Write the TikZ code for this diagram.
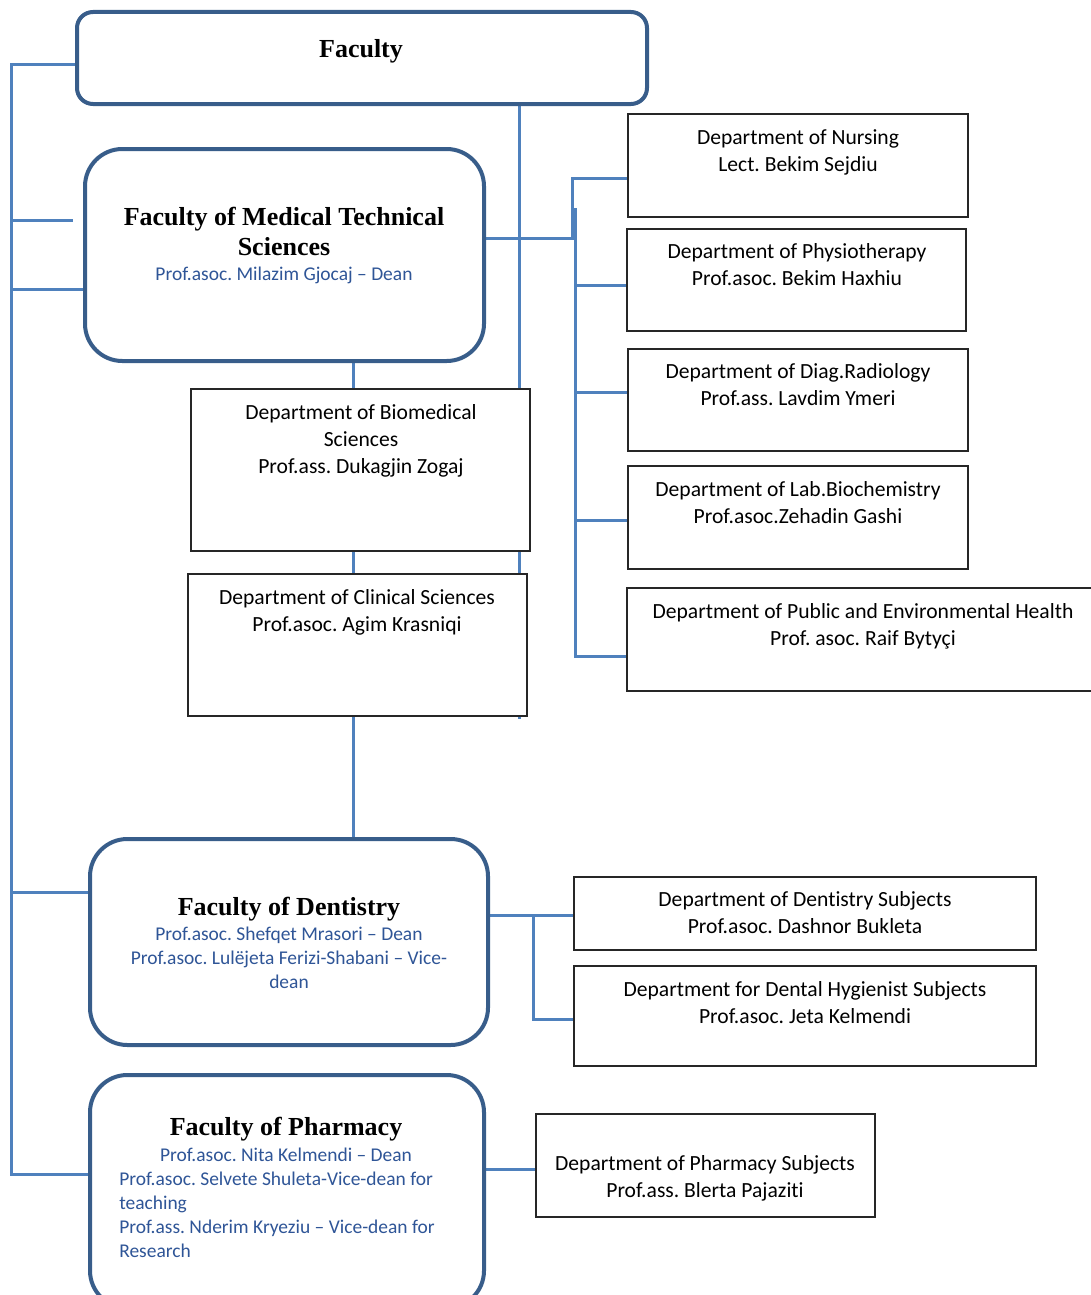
\documentclass[tikz,border=0pt]{standalone}
\usepackage{fontspec}
\setmainfont{Carlito}[Ligatures={NoCommon}]
\newfontfamily\titlefont{Liberation Serif}
\usetikzlibrary{fit,backgrounds}
\frenchspacing

\definecolor{linkblue}{RGB}{79,129,189}
\definecolor{frameblue}{RGB}{56,93,138}
\definecolor{namesblue}{RGB}{47,85,151}

\tikzset{
  conn/.style={draw=linkblue, line width=2.25pt},
  facbox/.style={draw=frameblue, line width=3pt, fill=white, inner sep=0pt},
  deptbox/.style={draw=black!85, line width=1pt, fill=white, inner sep=0pt},
  depttext/.style={anchor=north, align=center, inner sep=0pt,
    font=\frenchspacing\fontsize{16.2}{20.25}\selectfont},
  titletext/.style={anchor=north, align=center, inner sep=0pt,
    font=\titlefont\bfseries\fontsize{19.5}{22.5}\selectfont},
  nametext/.style={anchor=north, align=center, inner sep=0pt, text=namesblue,
    font=\frenchspacing\fontsize{14.6}{18}\selectfont},
}

\begin{document}
\begin{tikzpicture}[x=0.75pt, y=-0.75pt]
\useasboundingbox (0,0) rectangle (1091,1295);
\clip (0,0) rectangle (1091,1295);

% ---------- faculty boxes ----------
\node[facbox, rounded corners=12pt, fit={(77,12) (647,104)}] (fac) {};
\node[facbox, rounded corners=28pt, fit={(85,149) (484,361)}] (fmt) {};
\node[facbox, rounded corners=28pt, fit={(90,839) (488,1045)}] (den) {};
\node[facbox, rounded corners=28pt, fit={(90,1075) (484,1308)}] (pha) {};

% ---------- department boxes ----------
\node[deptbox, fit={(628,114) (968,217)}] (nur) {};
\node[deptbox, fit={(627,229) (966,331)}] (phy) {};
\node[deptbox, fit={(628,349) (968,451)}] (rad) {};
\node[deptbox, fit={(628,466) (968,569)}] (bch) {};
\node[deptbox, fit={(627,588) (1100,691)}] (pub) {};
\node[deptbox, fit={(191,389) (530,551)}] (bmd) {};
\node[deptbox, fit={(188,574) (527,716)}] (cli) {};
\node[deptbox, fit={(574,877) (1036,950)}] (dsu) {};
\node[deptbox, fit={(574,966) (1036,1066)}] (dhy) {};
\node[deptbox, fit={(536,1114) (875,1217)}] (psu) {};

% ---------- texts ----------
\node[titletext] (fac-t) at (361,36) {\strut Faculty};

\node[titletext] (fmt-t) at (284,204.5) {\strut Faculty of Medical Technical\\Sciences};
\node[nametext] (fmt-n) at (284,263) {\strut Prof.asoc. Milazim Gjocaj – Dean};

\node[titletext] (den-t) at (289,894.5) {\strut Faculty of Dentistry};
\node[nametext] (den-n) at (289,923.5) {\strut Prof.asoc. Shefqet Mrasori – Dean\\Prof.asoc. Lulëjeta Ferizi-Shabani – Vice-\\dean};

\node[titletext] (pha-t) at (286,1114.5) {\strut Faculty of Pharmacy};
\node[nametext] (pha-n) at (286,1144) {\strut Prof.asoc. Nita Kelmendi – Dean};
\node[nametext, anchor=north west, align=left] (pha-v) at (119,1168.5)
  {\strut Prof.asoc. Selvete Shuleta-Vice-dean for\\teaching\\Prof.ass. Nderim Kryeziu – Vice-dean for\\Research};

\node[depttext] (nur-t) at (798,125.5) {\strut Department of Nursing\\Lect. Bekim Sejdiu};
\node[depttext] (phy-t) at (797,239.5) {\strut Department of Physiotherapy\\Prof.asoc. Bekim Haxhiu};
\node[depttext] (rad-t) at (798,359.5) {\strut Department of Diag.Radiology\\Prof.ass. Lavdim Ymeri};
\node[depttext] (bch-t) at (798,477.5) {\strut Department of Lab.Biochemistry\\Prof.asoc.Zehadin Gashi};
\node[depttext] (pub-t) at (863,599.5) {\strut Department of Public and Environmental Health\\Prof. asoc. Raif Bytyçi};
\node[depttext] (bmd-t) at (361,400.5) {\strut Department of Biomedical\\Sciences\\Prof.ass. Dukagjin Zogaj};
\node[depttext] (cli-t) at (357,585.5) {\strut Department of Clinical Sciences\\Prof.asoc. Agim Krasniqi};
\node[depttext] (dsu-t) at (805,887.5) {\strut Department of Dentistry Subjects\\Prof.asoc. Dashnor Bukleta};
\node[depttext] (dhy-t) at (805,977.5) {\strut Department for Dental Hygienist Subjects\\Prof.asoc. Jeta Kelmendi};
\node[depttext] (psu-t) at (705,1151.5) {\strut Department of Pharmacy Subjects\\Prof.ass. Blerta Pajaziti};

% ---------- connectors (behind the boxes) ----------
\begin{scope}[on background layer]
  % left spine from the faculty to the three schools
  \draw[conn] (fac.west |- 0,65) -| (11,1174) -- (pha.west |- 0,1174);
  \draw[conn] (11,220) -- ([xshift=-7.5pt]fmt.west |- 0,220);
  \draw[conn] (11,289) -- (fmt.west |- 0,289);
  \draw[conn] (11,892) -- (den.west |- 0,892);
  % drop line from the faculty box
  \draw[conn] (fac.south -| 519,0) -- (519,719);
  % medical technical sciences to its departments
  \draw[conn] (fmt.east |- 0,238) -- (572,238) -- (572,178) -- (nur.west |- 0,178);
  \draw[conn] (575,208) -- (575,656) -- (pub.west |- 0,656);
  \draw[conn] (575,285) -- (phy.west |- 0,285);
  \draw[conn] (575,392) -- (rad.west |- 0,392);
  \draw[conn] (577,520) -- (bch.west |- 0,520);
  \draw[conn] (fmt.south -| 353,0) -- (den.north -| 353,0);
  % dentistry to its departments
  \draw[conn] (den.east |- 0,915) -- (dsu.west |- 0,915);
  \draw[conn] (533,915) -- (533,1019) -- ([xshift=2.25pt]dhy.west |- 0,1019);
  % pharmacy to its department
  \draw[conn] (pha.east |- 0,1169) -- (psu.west |- 0,1169);
\end{scope}
\end{tikzpicture}
\end{document}
